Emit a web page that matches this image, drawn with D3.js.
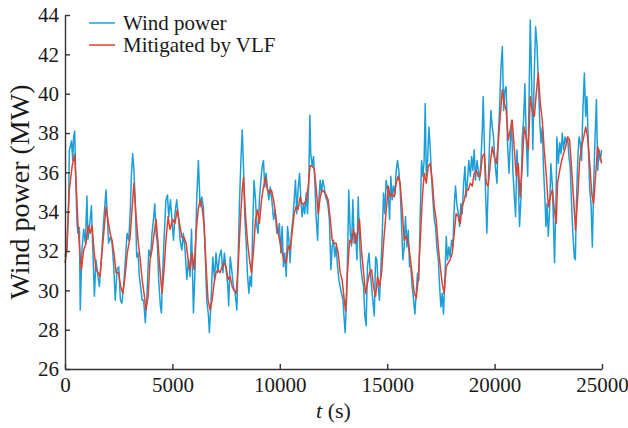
<!DOCTYPE html>
<html>
<head>
<meta charset="utf-8">
<script src="https://cdn.jsdelivr.net/npm/d3@7"></script>
<style>
  html, body { margin: 0; padding: 0; background: #fff; }
  svg text { font-family: "Liberation Serif", "DejaVu Serif", serif; fill: #1a1a1a; }
</style>
</head>
<body>
<svg id="chart" width="628" height="428"></svg>
<script>
// wind power series (s, MW)
const windTime = [0,90,170,200,300,360,400,450,510,560,600,670,710,790,870,950,1020,1070,1130,1230,1290,1370,1440,1540,1600,1690,1790,1850,1910,1970,2030,2110,2190,2270,2340,2420,2500,2580,2650,2730,2810,2890,2970,3040,3090,3150,3210,3280,3340,3400,3460,3520,3590,3660,3740,3820,3900,3980,4050,4130,4180,4240,4300,4360,4440,4490,4550,4610,4700,4770,4830,4910,5050,5120,5200,5280,5360,5440,5510,5590,5670,5750,5820,5890,5980,6060,6130,6210,6290,6370,6440,6520,6600,6680,6720,6790,6880,6960,7030,7110,7190,7270,7350,7420,7500,7580,7620,7690,7760,7840,7920,8000,8060,8120,8180,8250,8310,8370,8430,8490,8560,8620,8680,8740,8800,8870,8930,8990,9050,9120,9180,9240,9300,9360,9430,9490,9550,9630,9710,9780,9860,9920,9980,10050,10110,10170,10230,10300,10360,10420,10480,10540,10610,10670,10730,10790,10850,10920,10980,11040,11100,11160,11230,11290,11350,11400,11440,11510,11570,11630,11690,11760,11820,11880,11940,12000,12070,12130,12190,12250,12310,12380,12440,12500,12560,12620,12690,12750,12810,12870,12940,13000,13040,13110,13170,13210,13280,13340,13400,13460,13530,13590,13650,13710,13770,13840,13900,13960,14020,14080,14150,14210,14270,14330,14400,14460,14520,14580,14640,14710,14770,14830,14890,14950,15050,15110,15170,15230,15290,15360,15420,15480,15540,15600,15670,15730,15790,15850,15920,15980,16040,16100,16160,16230,16290,16350,16410,16470,16540,16600,16660,16720,16770,16820,16880,16940,17000,17060,17130,17190,17250,17310,17380,17440,17500,17560,17620,17690,17750,17810,17870,17930,18000,18060,18120,18180,18240,18310,18370,18430,18490,18560,18620,18680,18740,18800,18870,18930,18990,19050,19110,19180,19240,19300,19360,19430,19470,19520,19580,19640,19700,19770,19830,19890,19950,19980,20050,20110,20170,20230,20290,20360,20420,20480,20540,20600,20670,20730,20790,20850,20920,20980,21040,21100,21160,21230,21290,21350,21410,21470,21540,21600,21660,21720,21780,21850,21910,21970,22030,22100,22160,22220,22280,22340,22390,22440,22500,22560,22620,22690,22750,22790,22860,22900,22970,23030,23090,23150,23210,23280,23340,23400,23460,23520,23590,23650,23710,23760,23800,23870,23930,23990,24050,24110,24180,24240,24300,24360,24430,24490,24550,24610,24670,24740,24800,24860,24920,24980];
const windPower = [31.7,32.2,34.6,37.1,37.6,36.6,37.8,38.1,35.3,33.4,32.9,33.2,29.0,32.05,33.1,32.4,34.8,32.6,33.1,34.3,32.2,29.7,31.55,30.7,30.2,31.55,33.4,34.25,35.1,33.75,32.4,32.7,32.4,31.2,29.5,31.05,31.2,29.5,29.35,30.2,31.55,32.9,32.55,34.1,35.8,36.95,36.1,34.1,31.7,31.9,30.7,30.2,29.5,29.5,28.35,29.85,32.05,31.7,32.9,33.75,34.4,32.9,32.4,30.55,29.2,28.85,30.9,32.55,34.6,34.85,33.75,34.6,32.55,33.9,34.6,33.75,32.55,32.05,32.9,32.05,30.55,31.55,30.7,33.1,28.85,31.2,34.6,36.6,34.25,34.75,34.25,32.05,29.5,28.7,27.85,29.2,31.7,30.55,31.9,30.9,31.7,32.05,30.9,31.9,31.05,30.2,29.2,31.7,31.05,30.2,29.85,29.0,31.55,34.4,36.3,38.15,36.3,33.75,32.55,30.9,29.85,30.7,30.2,33.25,35.6,34.6,33.25,32.9,34.6,35.6,36.3,36.6,35.25,35.95,35.1,34.6,35.25,34.6,33.6,34.1,32.9,32.9,33.4,31.9,33.25,31.2,31.9,30.7,33.25,32.55,31.4,32.9,33.6,34.6,35.6,33.9,35.1,35.95,34.6,33.75,34.4,33.9,34.95,33.9,35.45,38.9,36.95,36.3,36.8,35.6,33.75,32.55,34.6,35.6,34.95,35.6,35.25,34.75,34.6,34.25,33.6,31.05,32.25,32.55,31.7,32.25,31.2,30.55,30.2,29.85,29.5,28.5,27.85,29.5,32.55,35.1,32.9,32.25,34.6,32.4,32.9,31.55,34.75,32.55,31.2,30.55,30.2,28.7,28.2,31.2,31.9,30.9,30.2,29.5,28.7,31.7,31.55,30.2,29.5,31.2,32.9,34.95,33.9,35.6,34.9,33.6,35.8,34.6,35.3,34.9,36.1,36.6,36.1,35.3,33.25,31.55,32.2,33.75,32.2,33.05,31.2,31.2,30.2,29.5,28.8,29.85,30.85,30.5,33.9,36.6,35.8,36.6,39.5,35.8,36.6,38.3,37.3,35.8,34.6,33.6,33.25,32.2,31.55,30.2,29.15,29.85,28.8,30.7,32.75,31.55,32.2,31.7,32.55,32.2,34.25,35.3,34.4,33.9,33.25,34.4,33.9,35.45,36.3,34.75,35.6,36.6,35.8,36.8,36.1,37.15,35.6,36.6,36.1,35.6,36.45,38.3,39.85,37.5,34.95,32.9,35.3,37.65,39.15,38.3,37.8,37.15,36.1,35.45,37.8,39.15,41.2,42.4,39.15,40.2,40.35,37.5,35.95,37.5,38.65,36.1,34.75,33.75,37.15,35.8,33.25,34.75,37.8,38.65,40.5,37.8,35.8,39.5,43.75,40.85,37.15,41.2,43.4,42.55,40.85,38.65,37.5,38.3,36.1,34.75,33.25,34.4,32.75,34.1,36.45,35.3,33.05,31.4,34.75,37.8,36.45,37.5,36.95,38.0,37.15,37.8,37.5,37.8,36.8,36.3,34.25,32.75,31.7,31.55,34.1,36.6,37.8,37.5,36.6,39.15,41.05,38.85,39.85,37.5,35.1,34.4,32.2,35.25,37.5,39.7,36.1,37.15,36.6,37.15];

// mitigated by VLF (s, MW)
const vlfTime = [0,90,200,330,450,510,610,710,760,870,980,1070,1170,1260,1350,1440,1540,1630,1720,1820,1910,2000,2100,2190,2280,2380,2500,2590,2690,2780,2900,3030,3120,3210,3310,3400,3490,3590,3680,3770,3870,3960,4050,4150,4240,4330,4430,4520,4610,4700,4800,4890,5020,5120,5230,5330,5440,5540,5640,5750,5820,5920,6010,6100,6200,6290,6380,6480,6570,6660,6760,6850,6940,7030,7130,7220,7310,7410,7500,7590,7690,7780,7870,7970,8060,8150,8250,8310,8400,8490,8590,8680,8770,8870,8960,9050,9150,9240,9330,9430,9520,9610,9710,9800,9890,10020,10110,10200,10300,10390,10480,10570,10670,10760,10850,10950,11040,11130,11230,11320,11410,11510,11600,11690,11790,11880,11970,12070,12160,12250,12350,12440,12530,12620,12720,12810,12900,13000,13060,13150,13250,13340,13430,13530,13620,13710,13800,13900,13990,14080,14180,14270,14360,14460,14550,14640,14740,14830,14920,15050,15140,15230,15330,15420,15510,15600,15700,15790,15880,15980,16070,16160,16260,16350,16440,16540,16630,16720,16820,16910,17000,17100,17190,17280,17380,17470,17560,17650,17750,17840,17930,18030,18120,18210,18310,18400,18490,18590,18680,18770,18870,18960,19050,19150,19240,19330,19430,19520,19610,19700,19800,19890,19980,20080,20170,20260,20360,20450,20540,20640,20730,20820,20920,21010,21100,21190,21290,21380,21470,21570,21660,21750,21850,21940,22030,22130,22220,22310,22410,22500,22590,22690,22780,22870,22930,23030,23120,23210,23310,23400,23490,23590,23680,23770,23870,23960,24050,24150,24240,24330,24430,24520,24610,24700,24800,24890,24980];
const vlfPower = [31.4,32.05,35.1,36.3,36.9,35.6,33.25,31.7,31.05,32.05,32.4,33.3,32.9,33.3,32.05,31.05,30.9,30.7,31.9,33.1,34.25,33.6,32.9,32.55,31.9,30.9,30.9,30.2,29.85,30.55,31.9,32.7,34.1,35.45,33.75,32.55,31.7,30.55,29.85,29.0,29.7,31.55,32.05,32.9,33.6,32.4,30.9,29.85,31.05,32.55,33.75,33.1,33.6,33.4,34.1,33.4,32.7,32.7,32.4,31.4,31.05,31.9,31.05,32.9,34.1,34.6,34.25,33.25,31.2,29.5,29.0,29.5,30.35,30.9,31.05,30.9,31.2,31.4,31.2,30.55,30.7,30.2,30.0,29.85,31.2,33.25,35.1,35.75,33.9,32.55,31.55,30.9,31.9,33.6,34.1,33.4,34.6,35.25,35.75,35.1,34.95,35.1,34.6,33.9,33.1,32.4,31.9,31.55,31.4,32.25,32.05,32.9,33.9,34.25,34.1,34.75,34.4,34.4,34.6,35.25,36.35,36.3,36.2,35.25,33.9,34.75,35.1,35.0,34.85,34.6,33.6,32.55,32.4,32.4,31.9,30.9,30.55,29.5,28.95,30.9,32.55,32.4,33.1,32.4,32.9,33.6,32.05,30.9,29.85,30.35,30.9,31.05,30.2,29.7,30.7,30.2,30.9,32.4,33.6,35.3,34.75,34.9,34.75,35.45,35.8,35.45,34.1,32.55,32.75,32.4,31.7,30.85,29.85,29.6,30.5,32.55,34.6,35.95,35.45,36.3,36.45,35.6,34.25,33.6,32.2,31.2,30.35,29.85,31.2,31.4,31.55,31.9,32.9,33.9,33.75,33.4,34.25,34.6,35.1,35.1,35.45,35.3,35.95,36.1,35.8,35.8,36.8,36.95,35.45,35.3,36.45,37.3,36.8,36.45,37.5,38.85,40.2,39.5,39.15,37.65,38.15,38.65,37.15,35.8,36.45,34.75,36.45,38.3,37.8,37.15,39.85,39.15,38.85,40.0,41.05,39.5,38.65,37.15,35.8,34.25,34.75,35.1,34.1,33.4,35.45,36.1,36.6,36.95,37.3,37.8,37.65,36.1,34.6,33.05,34.75,36.6,37.3,37.8,38.3,37.8,36.45,34.95,34.4,35.8,37.3,36.95,36.45];

const xTicks = [0, 5000, 10000, 15000, 20000, 25000];
const yTicks = [26, 28, 30, 32, 34, 36, 38, 40, 42, 44];
const legendLabels = ["Wind power", "Mitigated by VLF"];
const colors = ["#1c9fd8", "#e3412e"];
const serif = "'Liberation Serif', 'DejaVu Serif', serif";

const svg = d3.select("#chart");
const margin = { left: 65, right: 26, top: 15, bottom: 59 };
const width = 628 - margin.left - margin.right;
const height = 428 - margin.top - margin.bottom;

const x = d3.scaleLinear().domain([0, 25000]).range([0, width]);
const y = d3.scaleLinear().domain([26, 44]).range([height, 0]);

const g = svg.append("g").attr("transform", `translate(${margin.left},${margin.top})`);

const windData = windTime.map((t, i) => [t, windPower[i]]);
const vlfData = vlfTime.map((t, i) => [t, vlfPower[i]]);

const line = d3.line().x(d => x(d[0])).y(d => y(d[1]));

g.append("path")
  .datum(windData)
  .attr("fill", "none")
  .attr("stroke", colors[0])
  .attr("stroke-width", 1.5)
  .attr("stroke-linejoin", "round")
  .attr("d", line);

g.append("path")
  .datum(vlfData)
  .attr("fill", "none")
  .attr("stroke", colors[1])
  .attr("stroke-width", 1.5)
  .attr("stroke-linejoin", "round")
  .attr("d", line);

// axes, ticks point inward
const xAxis = g.append("g")
  .attr("transform", `translate(0,${height})`)
  .call(d3.axisBottom(x).tickValues(xTicks).tickFormat(d3.format("d"))
    .tickSize(-5).tickSizeOuter(0).tickPadding(8));
const yAxis = g.append("g")
  .call(d3.axisLeft(y).tickValues(yTicks).tickFormat(d3.format("d"))
    .tickSize(-5).tickSizeOuter(0).tickPadding(6));

[xAxis, yAxis].forEach(a => {
  a.attr("font-family", serif);
  a.selectAll("path, line").attr("stroke", "#333").attr("stroke-width", 1.4);
  a.selectAll("text").style("font-size", "21px").attr("fill", "#1a1a1a");
});

// axis titles
const xTitle = svg.append("text")
  .attr("x", margin.left + width / 2)
  .attr("y", 418)
  .attr("text-anchor", "middle")
  .attr("font-family", serif)
  .style("font-size", "22px");
xTitle.append("tspan").style("font-style", "italic").text("t");
xTitle.append("tspan").text(" (s)");

svg.append("text")
  .attr("transform", `translate(29,${margin.top + height / 2}) rotate(-90)`)
  .attr("text-anchor", "middle")
  .attr("font-family", serif)
  .style("font-size", "28px")
  .text("Wind power (MW)");

// legend
const legend = svg.append("g").attr("transform", "translate(89,23)");
legendLabels.forEach((label, i) => {
  const row = legend.append("g").attr("transform", `translate(0,${i * 22})`);
  row.append("line")
    .attr("x1", 0).attr("x2", 26)
    .attr("stroke", colors[i]).attr("stroke-width", 1.5);
  row.append("text")
    .attr("x", 34).attr("dy", "0.33em")
    .attr("font-family", serif)
    .style("font-size", "21px")
    .text(label);
});
</script>
</body>
</html>
